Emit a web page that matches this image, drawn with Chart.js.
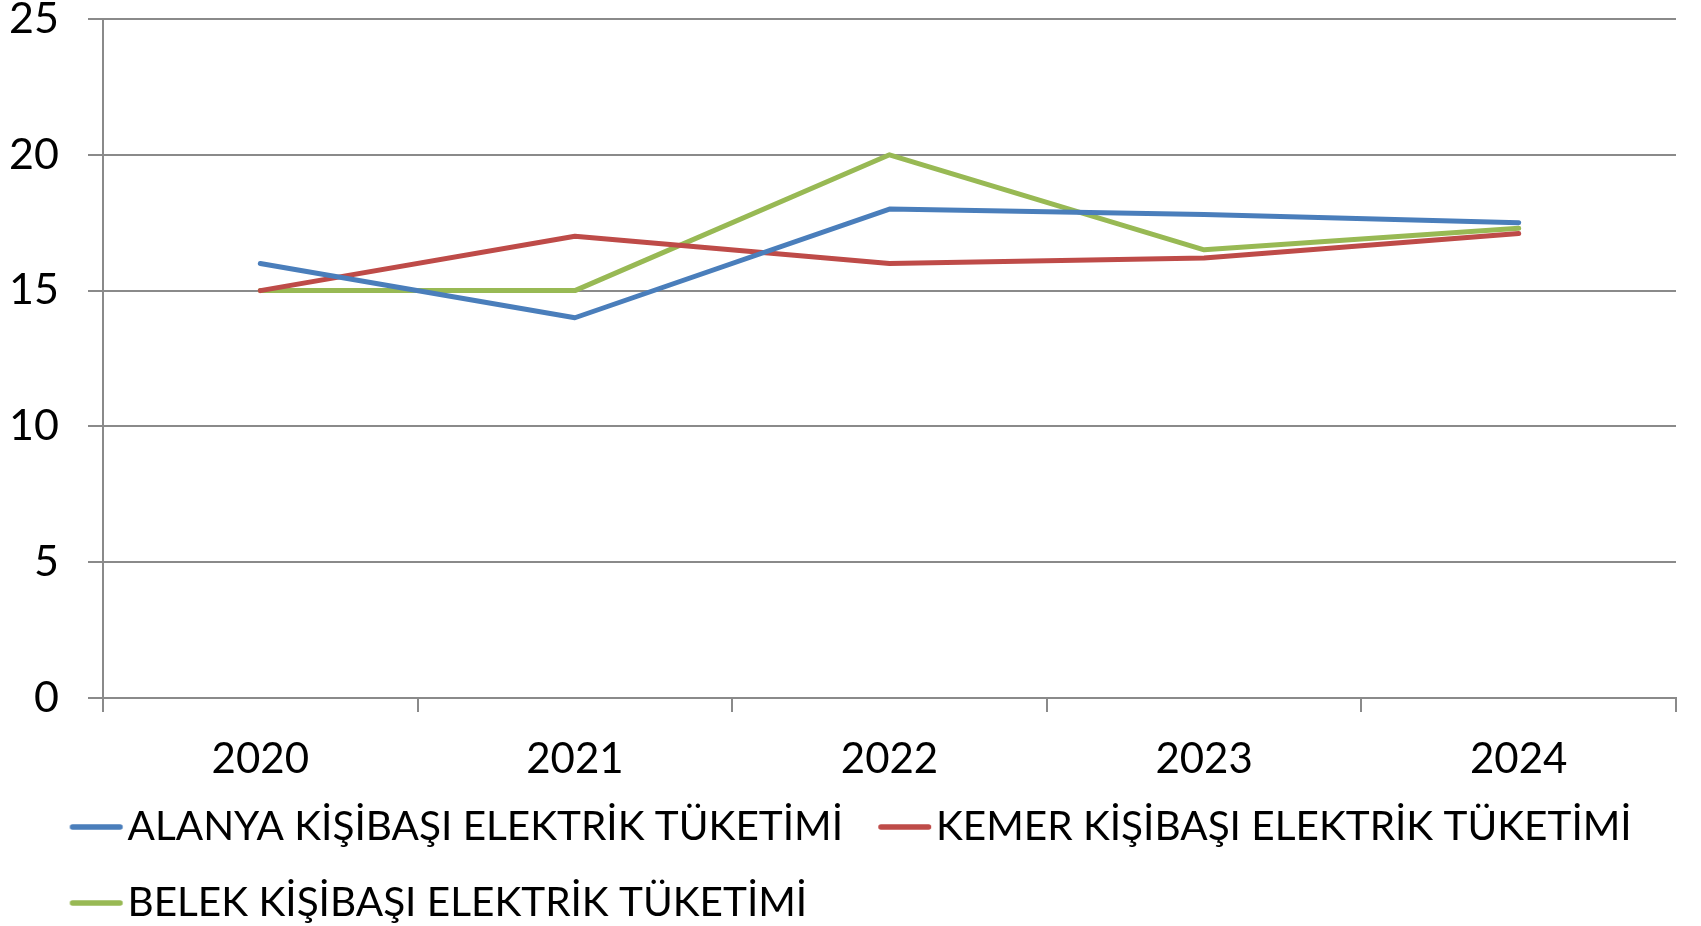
<!DOCTYPE html>
<html>
<head>
<meta charset="utf-8">
<script src="https://cdn.jsdelivr.net/npm/chart.js@4/dist/chart.umd.min.js"></script>
<style>
  html, body { margin: 0; padding: 0; background: #fff; }
  #wrap { width: 1701px; height: 926px; }
</style>
</head>
<body>
<div id="wrap"><canvas id="customChart" width="1701" height="926"></canvas></div>
<script>
// Data
const years = ['2020', '2021', '2022', '2023', '2024'];
const alanya = [16, 14, 18, 17.8, 17.5];
const kemer = [15, 17, 16, 16.2, 17.1];
const belek = [15, 15, 20, 16.5, 17.3];
const seriesNames = [
    'ALANYA KİŞİBAŞI ELEKTRİK TÜKETİMİ',
    'KEMER KİŞİBAŞI ELEKTRİK TÜKETİMİ',
    'BELEK KİŞİBAŞI ELEKTRİK TÜKETİMİ'
];
const yTicks = { min: 0, max: 25, step: 5 };

const colors = ['#4a7ebb', '#be4b48', '#98b954'];
const gridColor = '#8a8a8a';

// legend marker: a short thick line, drawn a bit left of the marker box centre
function legendLine(color) {
    const c = document.createElement('canvas');
    c.width = 74;
    c.height = 10;
    const g = c.getContext('2d');
    g.strokeStyle = color;
    g.lineWidth = 5.5;
    g.lineCap = 'round';
    g.beginPath();
    g.moveTo(20.9, 5);
    g.lineTo(68.4, 5);
    g.stroke();
    return c;
}

function lineSet(i, data) {
    return {
        label: seriesNames[i],
        data: data,
        borderColor: colors[i],
        backgroundColor: colors[i],
        borderWidth: 5,
        borderCapStyle: 'round',
        borderJoinStyle: 'round',
        pointRadius: 0,
        pointHoverRadius: 0,
        pointStyle: legendLine(colors[i]),
        tension: 0
    };
}

// move the legend box so its rows start where the reference has them
const legendShift = {
    id: 'legendShift',
    afterLayout(chart) {
        const lg = chart.legend;
        if (!lg) return;
        lg.left = 34.5;
        lg.top = 771.25;
        lg.bottom = chart.height;
    }
};

Chart.defaults.color = '#000';
Chart.defaults.font.family = 'Lato, "Open Sans", sans-serif';

const ctx = document.getElementById('customChart').getContext('2d');
new Chart(ctx, {
    type: 'line',
    data: {
        labels: years,
        datasets: [lineSet(0, alanya), lineSet(1, kemer), lineSet(2, belek)]
    },
    plugins: [legendShift],
    options: {
        responsive: false,
        animation: false,
        layout: { padding: { top: 19, left: 0, right: 0, bottom: 0 } },
        scales: {
            x: {
                offset: true,
                grid: {
                    offset: true,
                    drawOnChartArea: false,
                    drawTicks: true,
                    tickLength: 14,
                    color: gridColor,
                    lineWidth: 2
                },
                border: { display: true, color: gridColor, width: 2 },
                ticks: {
                    font: { size: 42, lineHeight: 1 },
                    padding: 26,
                    maxRotation: 0
                },
                afterFit: s => { s.height = 83; }
            },
            y: {
                min: yTicks.min,
                max: yTicks.max,
                ticks: {
                    stepSize: yTicks.step,
                    font: { size: 43, lineHeight: 1 },
                    padding: 29
                },
                grid: {
                    color: gridColor,
                    lineWidth: 2,
                    tickLength: 15
                },
                border: { display: true, color: gridColor, width: 2 },
                afterFit: s => {
                    s.width = 103;
                    s.paddingTop = 0;
                    s.paddingBottom = 0;
                }
            },
            // empty strip on the right so the legend may use the full width
            yRight: {
                position: 'right',
                display: true,
                ticks: { display: false },
                grid: { display: false },
                border: { display: false },
                afterFit: s => {
                    s.width = 25;
                    s.paddingTop = 0;
                    s.paddingBottom = 0;
                }
            }
        },
        plugins: {
            legend: {
                position: 'bottom',
                align: 'start',
                maxHeight: 145,
                labels: {
                    usePointStyle: true,
                    pointStyleWidth: 37.25,
                    padding: 35.5,
                    color: '#000',
                    font: { size: 40.5 }
                }
            },
            tooltip: { enabled: false }
        }
    }
});
</script>
</body>
</html>
